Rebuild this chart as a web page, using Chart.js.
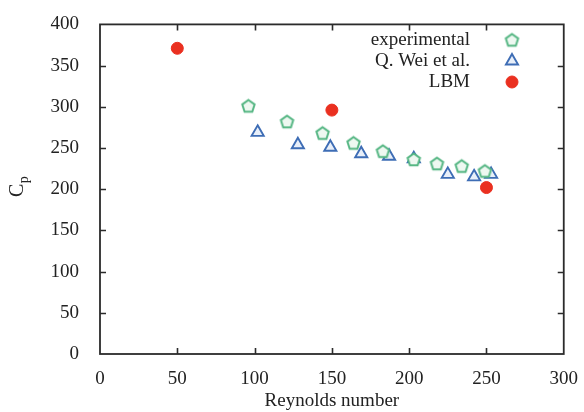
<!DOCTYPE html>
<html>
<head>
<meta charset="utf-8">
<script src="https://cdn.jsdelivr.net/npm/chart.js@4/dist/chart.umd.min.js"></script>
<style>
html,body{margin:0;padding:0;background:#fff;}
#wrap{width:584px;height:412px;position:relative;}
</style>
</head>
<body>
<div id="wrap"><canvas id="c" width="584" height="412"></canvas></div>
<script>
// ---- data ----
const seriesNames = ['experimental', 'Q. Wei et al.', 'LBM'];
const expRe = [96, 121, 144, 164, 183, 203, 218, 234, 249];
const expCp = [301, 282, 268, 256, 246, 236, 231, 228, 222];
const weiRe = [102, 128, 149, 169, 187, 203, 225, 242, 253];
const weiCp = [269, 254, 251, 243, 240, 237, 218, 215, 218];
const lbmRe = [50, 150, 250];
const lbmCp = [371, 296, 202];
const xTicks = [0, 50, 100, 150, 200, 250, 300];
const yTicks = [0, 50, 100, 150, 200, 250, 300, 350, 400];
const xTitle = 'Reynolds number';
const yTitleMain = 'C', yTitleSub = 'p';

const FONT = '"Liberation Serif", "Times New Roman", "DejaVu Serif", serif';
const GREEN = '#55b683', BLUE = '#3e6db5', RED = '#ea3020';

function pentagonImage(r, stroke, fill, lw) {
  const s = Math.ceil(2 * r + lw * 2 + 2);
  const cv = document.createElement('canvas');
  cv.width = s; cv.height = s;
  const g = cv.getContext('2d');
  const cx = s / 2, cy = s / 2 + 0.5;
  g.beginPath();
  for (let i = 0; i < 5; i++) {
    const a = -Math.PI / 2 + i * 2 * Math.PI / 5;
    const px = cx + r * Math.cos(a), py = cy + r * Math.sin(a);
    if (i === 0) g.moveTo(px, py); else g.lineTo(px, py);
  }
  g.closePath();
  g.fillStyle = fill; g.fill();
  g.strokeStyle = stroke; g.lineWidth = lw; g.stroke();
  return cv;
}
const pent = pentagonImage(6.5, GREEN, '#eef8f1', 2);

const toPts = (xs, ys) => xs.map((x, i) => ({x: x, y: ys[i]}));

const frame = {
  id: 'frame',
  afterDraw(chart) {
    const ctx = chart.ctx, a = chart.chartArea;
    const xs = chart.scales.x, ys = chart.scales.y;
    ctx.save();
    ctx.strokeStyle = '#2b2b2b';
    ctx.lineWidth = 1.8;
    ctx.strokeRect(a.left, a.top, a.right - a.left, a.bottom - a.top);
    ctx.lineWidth = 1.6;
    const L = 6;
    ctx.beginPath();
    xTicks.slice(1, -1).forEach(v => {
      const p = Math.round(xs.getPixelForValue(v)) + 0.5;
      ctx.moveTo(p, a.bottom); ctx.lineTo(p, a.bottom - L);
      ctx.moveTo(p, a.top); ctx.lineTo(p, a.top + L);
    });
    yTicks.slice(1, -1).forEach(v => {
      const p = Math.round(ys.getPixelForValue(v)) + 0.5;
      ctx.moveTo(a.left, p); ctx.lineTo(a.left + L, p);
      ctx.moveTo(a.right, p); ctx.lineTo(a.right - L, p);
    });
    ctx.stroke();

    // y title C_p
    ctx.save();
    ctx.fillStyle = '#222';
    ctx.translate(23, 197);
    ctx.rotate(-Math.PI / 2);
    ctx.textAlign = 'left';
    ctx.textBaseline = 'alphabetic';
    ctx.font = '20px ' + FONT;
    ctx.fillText(yTitleMain, 0, 0);
    const cw = ctx.measureText(yTitleMain).width;
    ctx.font = '14px ' + FONT;
    ctx.fillText(yTitleSub, cw + 0.5, 5);
    ctx.restore();

    // legend
    ctx.font = '19px ' + FONT;
    ctx.textAlign = 'right';
    ctx.textBaseline = 'middle';
    const lx = 470, mx = 512, ly0 = 40, dy = 21;
    chart.data.datasets.forEach((ds, i) => {
      const y = ly0 + i * dy;
      ctx.fillStyle = '#222';
      ctx.fillText(seriesNames[i], lx, y);
      ctx.fillStyle = ds.backgroundColor;
      ctx.strokeStyle = ds.borderColor;
      ctx.lineWidth = ds.borderWidth;
      Chart.helpers.drawPoint(ctx, {pointStyle: ds.pointStyle, radius: ds.pointRadius, borderWidth: ds.borderWidth, rotation: 0}, mx, y);
    });
    ctx.restore();
  }
};

new Chart(document.getElementById('c'), {
  type: 'scatter',
  data: {
    datasets: [
      {label: seriesNames[0], data: toPts(expRe, expCp), pointStyle: pent, pointRadius: 6.5,
       backgroundColor: '#eef8f1', borderColor: GREEN, borderWidth: 2},
      {label: seriesNames[1], data: toPts(weiRe, weiCp), pointStyle: 'triangle', pointRadius: 7,
       backgroundColor: '#e8eff9', borderColor: BLUE, borderWidth: 1.9},
      {label: seriesNames[2], data: toPts(lbmRe, lbmCp), pointStyle: 'circle', pointRadius: 6,
       backgroundColor: RED, borderColor: RED, borderWidth: 1}
    ]
  },
  options: {
    responsive: false,
    animation: false,
    layout: {padding: {left: 0, right: 18, top: 22, bottom: 0}},
    plugins: {legend: {display: false}, tooltip: {enabled: false}},
    scales: {
      x: {
        type: 'linear', min: 0, max: 300,
        afterBuildTicks: s => { s.ticks = xTicks.map(v => ({value: v})); },
        afterFit: s => { s.height = 58; },
        grid: {display: false}, border: {display: false},
        ticks: {color: '#222', font: {family: FONT, size: 19}, padding: 6, maxRotation: 0, autoSkip: false},
        title: {display: true, text: xTitle, color: '#222', font: {family: FONT, size: 19}, padding: {top: 0, bottom: 0}}
      },
      y: {
        type: 'linear', min: 0, max: 400,
        afterBuildTicks: s => { s.ticks = yTicks.map(v => ({value: v})); },
        afterFit: s => { s.width = 100; },
        grid: {display: false}, border: {display: false},
        ticks: {color: '#222', font: {family: FONT, size: 19}, padding: 13, autoSkip: false},
        title: {display: false}
      }
    }
  },
  plugins: [frame]
});
</script>
</body>
</html>
